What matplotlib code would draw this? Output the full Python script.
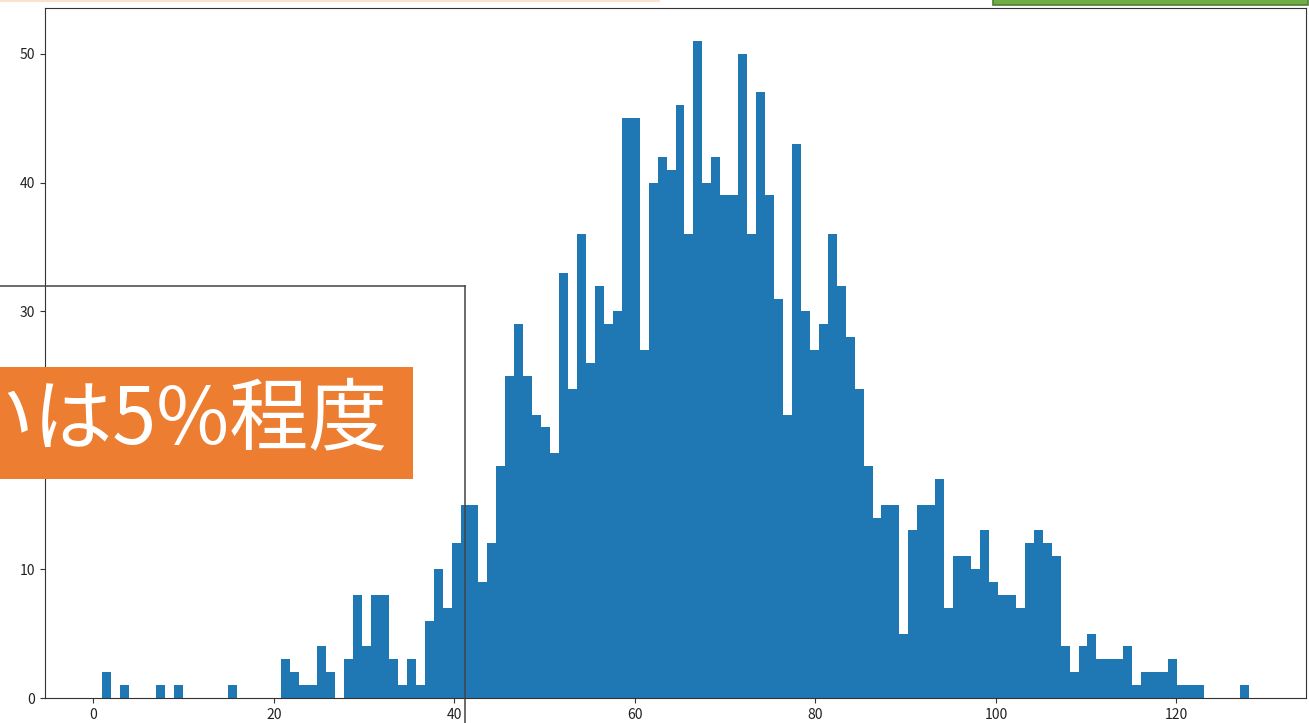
import numpy as np
import matplotlib
matplotlib.use("Agg")
import matplotlib.pyplot as plt
from matplotlib.patches import Rectangle
from matplotlib.lines import Line2D

plt.rcParams['font.family'] = ['Noto Sans CJK JP', 'DejaVu Sans']

# histogram: 128 bins between 1 and 128
x_min = 1
x_max = 128
n_bins = 128
counts = [
    2, 0, 1, 0, 0, 0, 1, 0, 1, 0,
    0, 0, 0, 0, 1, 0, 0, 0, 0, 0,
    3, 2, 1, 1, 4, 2, 0, 3, 8, 4,
    8, 8, 3, 1, 3, 1, 6, 10, 7, 12,
    15, 15, 9, 12, 18, 25, 29, 25, 22, 21,
    19, 33, 24, 36, 26, 32, 29, 30, 45, 45,
    27, 40, 42, 41, 46, 36, 51, 40, 42, 39,
    39, 50, 36, 47, 39, 31, 22, 43, 30, 27,
    29, 36, 32, 28, 24, 18, 14, 15, 15, 5,
    13, 15, 15, 17, 7, 11, 11, 10, 13, 9,
    8, 8, 7, 12, 13, 12, 11, 4, 2, 4,
    5, 3, 3, 3, 4, 1, 2, 2, 2, 3,
    1, 1, 1, 0, 0, 0, 0, 1,
]

note_text = "いは5%程度"

W, H = 1309, 723
fig = plt.figure(figsize=(W / 100, H / 100), dpi=100)


def box(x0, y0, x1, y1):
    # screen pixels (top-left origin) -> figure fraction rect
    return x0 / W, 1 - y1 / H, (x1 - x0) / W, (y1 - y0) / H


ax = fig.add_axes(box(45, 8, 1306, 698))
edges = np.linspace(x_min, x_max, n_bins + 1)
ax.hist(edges[:-1], bins=edges, weights=counts, color='#1f77b4')
ax.tick_params(labelsize=10, colors='#333333', labelcolor='#222222')
for s in ax.spines.values():
    s.set_color('#333333')

# slide decorations pasted over the chart
x, y, w, h = box(0, 0, 660, 1.6)
fig.add_artist(Rectangle((x, y), w, h, transform=fig.transFigure,
                         facecolor='#FBE1CF', edgecolor='none'))
x, y, w, h = box(993, -3, 1308, 5)
fig.add_artist(Rectangle((x, y), w, h, transform=fig.transFigure,
                         facecolor='#70AD47', edgecolor='#507E32', lw=1.2))

fig.add_artist(Line2D([0, 465 / W], [1 - 286 / H, 1 - 286 / H],
                      transform=fig.transFigure, color='#444444', lw=1.1))
fig.add_artist(Line2D([465 / W, 465 / W], [1 - 286 / H, 0],
                      transform=fig.transFigure, color='#444444', lw=1.1))

x, y, w, h = box(0, 367, 413, 479)
fig.add_artist(Rectangle((x, y), w, h, transform=fig.transFigure,
                         facecolor='#ED7D31', edgecolor='none'))
fig.text(387 / W, 1 - 421 / H, note_text, color='white', fontsize=57,
         ha='right', va='center')

fig.savefig('out.png', dpi=100)
